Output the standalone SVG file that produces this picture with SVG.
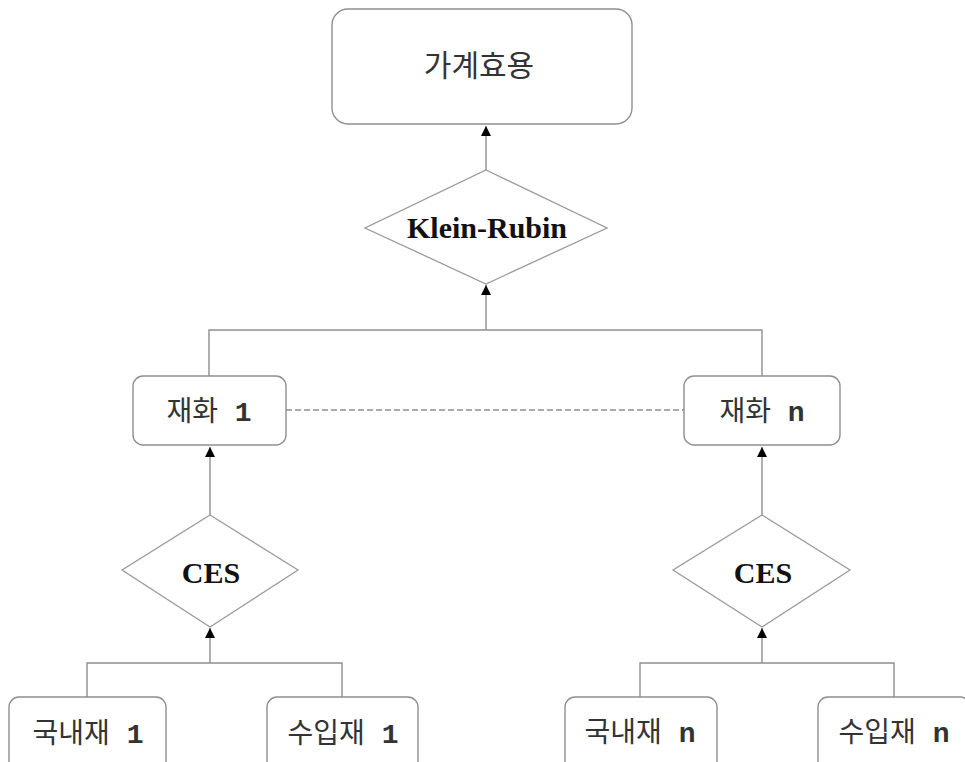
<svg xmlns="http://www.w3.org/2000/svg" width="965" height="762" viewBox="0 0 965 762">
<defs>
<marker id="arr" viewBox="0 0 10 10" refX="10" refY="5" markerWidth="10" markerHeight="10" markerUnits="userSpaceOnUse" orient="auto">
<path d="M0,0 L10,5 L0,10 z" fill="#000"/>
</marker>
<style>
.box{fill:#fff;stroke:#8f8f8f;stroke-width:1.4}
.dia{fill:#fff;stroke:#9a9a9a;stroke-width:1.3}
.ln{fill:none;stroke:#8f8f8f;stroke-width:1.4}
.ko{font-family:"Liberation Mono","Noto Sans CJK KR",monospace;font-size:28px;font-weight:normal;fill:#333;text-anchor:middle;dominant-baseline:central}
.ko tspan{font-weight:bold}
.op{font-family:"Liberation Serif",serif;font-weight:bold;font-size:30px;fill:#111;text-anchor:middle}
</style>
</defs>
<rect width="965" height="762" fill="#fff"/>
<g id="connectors">
<line class="ln" x1="486" y1="170" x2="486" y2="126" marker-end="url(#arr)"/>
<line class="ln" x1="486" y1="330" x2="486" y2="285" marker-end="url(#arr)"/>
<polyline class="ln" points="209,376 209,330 762,330 762,376"/>
<line class="ln" x1="286" y1="410" x2="684" y2="410" stroke-dasharray="6,3"/>
<line class="ln" x1="210" y1="515" x2="210" y2="447" marker-end="url(#arr)"/>
<line class="ln" x1="762" y1="515" x2="762" y2="447" marker-end="url(#arr)"/>
<line class="ln" x1="210" y1="663" x2="210" y2="628" marker-end="url(#arr)"/>
<line class="ln" x1="762" y1="663" x2="762" y2="628" marker-end="url(#arr)"/>
<polyline class="ln" points="87,697 87,663 342,663 342,697"/>
<polyline class="ln" points="640,697 640,663 894,663 894,697"/>
</g>
<g id="household-utility">
<rect class="box" x="332" y="9" width="300" height="115" rx="16"/>
<text class="ko" x="479" y="68" style="font-size:30px">가계효용</text>
</g>
<g id="klein-rubin">
<polygon class="dia" points="486,170 607,228 486,284 365,228"/>
<text class="op" x="487" y="238">Klein-Rubin</text>
</g>
<g id="good-1">
<rect class="box" x="133" y="376" width="153" height="69" rx="10"/>
<text class="ko" x="209" y="413">재화 <tspan>1</tspan></text>
</g>
<g id="good-n">
<rect class="box" x="684" y="376" width="156" height="69" rx="10"/>
<text class="ko" x="762" y="413">재화 <tspan>n</tspan></text>
</g>
<g id="ces-1">
<polygon class="dia" points="210,515 298,570 210,627 122,570"/>
<text class="op" x="211" y="583">CES</text>
</g>
<g id="ces-n">
<polygon class="dia" points="762,515 850,570 762,627 673,570"/>
<text class="op" x="763" y="583">CES</text>
</g>
<g id="domestic-1">
<rect class="box" x="9" y="697" width="157" height="75" rx="10"/>
<text class="ko" x="88" y="735">국내재 <tspan>1</tspan></text>
</g>
<g id="import-1">
<rect class="box" x="267" y="697" width="151" height="75" rx="10"/>
<text class="ko" x="343" y="735">수입재 <tspan>1</tspan></text>
</g>
<g id="domestic-n">
<rect class="box" x="565" y="697" width="152" height="75" rx="10"/>
<text class="ko" x="640" y="734">국내재 <tspan>n</tspan></text>
</g>
<g id="import-n">
<rect class="box" x="818" y="697" width="152" height="75" rx="10"/>
<text class="ko" x="894" y="734">수입재 <tspan>n</tspan></text>
</g>
</svg>
